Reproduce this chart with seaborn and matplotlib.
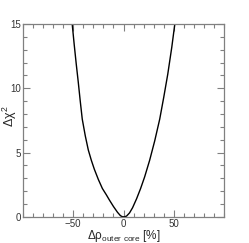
import matplotlib
matplotlib.use("Agg")
import matplotlib.pyplot as plt
from matplotlib.ticker import MultipleLocator
import pandas as pd
import seaborn as sns

# values
drho = [-51, -49, -47, -45, -43, -41, -38, -35, -32, -29, -25, -21, -17, -14,
        -10, -6, -3, -1, 1, 3, 6, 9, 13, 17, 21, 26, 31, 36, 40, 44, 48, 51]
dchi2 = [15, 13.4, 11.9, 10.5, 9.0, 7.6, 6.3, 5.2, 4.4, 3.7, 2.9, 2.2, 1.7, 1.3,
         0.8, 0.35, 0.08, 0, 0, 0.05, 0.3, 0.7, 1.4, 2.2, 3.1, 4.4, 5.9, 7.6,
         9.3, 11.1, 13.2, 15]

df = pd.DataFrame({"drho": drho, "dchi2": dchi2})

sns.set_theme(style="ticks")
plt.rcParams["font.family"] = ["Liberation Sans", "DejaVu Sans"]
plt.rcParams["mathtext.fontset"] = "custom"
plt.rcParams["mathtext.rm"] = "Liberation Sans"

fig = plt.figure(figsize=(2.49, 2.43), dpi=100)
ax = fig.add_axes([0.092, 0.108, 0.808, 0.793])

sns.lineplot(data=df, x="drho", y="dchi2", color="black", linewidth=1.0,
             sort=False, ax=ax)

ax.set_xlim(-100, 100)
ax.set_ylim(0, 15)
ax.xaxis.set_minor_locator(MultipleLocator(10))
ax.yaxis.set_major_locator(MultipleLocator(5))
ax.yaxis.set_minor_locator(MultipleLocator(1))
ax.set_xticks([-50, 0, 50])
ax.set_xticklabels(["\u221250", "0", "50"])

for s in ax.spines.values():
    s.set_color("#808080")
    s.set_linewidth(0.9)
    s.set_visible(True)

ax.tick_params(which="both", direction="in", top=True, right=True,
               color="#808080", width=0.8, labelsize=7, pad=1.5, labelcolor="#333333")
ax.tick_params(which="major", length=5)
ax.tick_params(which="minor", length=3)

ax.set_xlabel("Δρ$_{\\rm outer\\ core}$ [%]", fontsize=8.5)
ax.set_ylabel("Δχ$^{\\rm 2}$", fontsize=9)
ax.xaxis.set_label_coords(0.5, -0.1, transform=ax.transAxes)
ax.yaxis.set_label_coords(-0.065, 0.52, transform=ax.transAxes)
ax.xaxis.label.set_va("center")
ax.yaxis.label.set_va("center")

fig.savefig("out.png", dpi=100)
